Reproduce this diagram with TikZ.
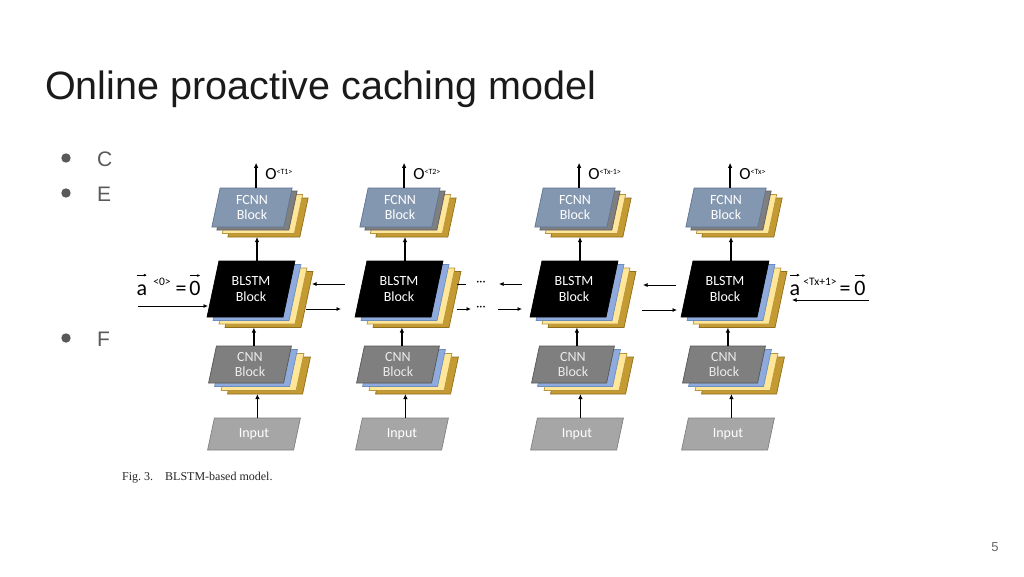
\documentclass[tikz,border=0pt]{standalone}
\usepackage{fontspec}
\setmainfont{Liberation Sans}
\newfontfamily\blockfont{Carlito}
\newfontfamily\capfont{Liberation Serif}
\usetikzlibrary{arrows.meta,calc}
\definecolor{fcnnfill}{HTML}{8497B0}
\definecolor{fcnndraw}{HTML}{5F7394}
\definecolor{dgray}{HTML}{7F7F7F}
\definecolor{dgrayD}{HTML}{5F5F5F}
\definecolor{lblue}{HTML}{8FAADC}
\definecolor{lblueD}{HTML}{6C8EBF}
\definecolor{yel}{HTML}{FFE699}
\definecolor{yelD}{HTML}{B8953A}
\definecolor{gold}{HTML}{C49A32}
\definecolor{goldD}{HTML}{8F6F1C}
\definecolor{cnnfill}{HTML}{7F7F7F}
\definecolor{cnndraw}{HTML}{555555}
\definecolor{inpfill}{HTML}{A6A6A6}
\definecolor{inpdraw}{HTML}{808080}
\definecolor{bulc}{HTML}{595959}
\definecolor{titlec}{HTML}{1A1A1A}
% parallelogram: center x, center y, side width, height, style
\newcommand\pgm[5]{\path[#5]
  ({#1-(#3)/2+0.1063*(#4)},{#2-(#4)/2}) --
  ({#1+(#3)/2+0.1063*(#4)},{#2-(#4)/2}) --
  ({#1+(#3)/2-0.1063*(#4)},{#2+(#4)/2}) --
  ({#1-(#3)/2-0.1063*(#4)},{#2+(#4)/2}) -- cycle;}
\tikzset{
  lay/.style={line width=0.7pt, line join=miter},
  goldL/.style={lay, fill=gold, draw=goldD},
  yelL/.style={lay, fill=yel, draw=yelD},
  blueL/.style={lay, fill=lblue, draw=lblueD},
  grayL/.style={lay, fill=dgray, draw=dgrayD},
  btext/.style={inner sep=0pt, align=center, font=\blockfont\fontsize{14}{15.5}\selectfont},
  varr/.style={line width=1.4pt, -{Latex[length=5pt,width=4.5pt]}},
  harr/.style={line width=0.8pt, -{Latex[length=4.5pt,width=4pt]}},
  vecarr/.style={line width=0.7pt, -{Latex[length=3pt,width=3pt]}},
  hline/.style={line width=0.8pt},
  olab/.style={anchor=base west, inner sep=0pt, font=\blockfont\fontsize{17}{18}\selectfont},
  alab/.style={anchor=base, inner sep=0pt, font=\blockfont\fontsize{22}{24}\selectfont},
  asup/.style={anchor=base, inner sep=0pt, font=\blockfont\fontsize{11.5}{12}\selectfont},
  dots/.style={font=\blockfont\fontsize{12}{12}\selectfont, inner sep=0pt},
  bul/.style={circle, fill=bulc, minimum size=9.4pt, inner sep=0pt},
  bultext/.style={anchor=base west, inner sep=0pt, text=bulc, font=\fontsize{21}{22}\selectfont},
}
\begin{document}
\begin{tikzpicture}[x=1pt,y=-1pt]
\useasboundingbox[fill=white] (0,0) rectangle (1024,576);

% title
\node[anchor=base west, text=titlec, font=\fontsize{39.5}{40}\selectfont, inner sep=0pt] (title) at (45,99) {Online proactive caching model};

% bullets (partly hidden by the figure)
\node[bul] (bu1) at (66,158) {};
\node[bultext] (bt1) at (97,166) {C};
\node[bul] (bu2) at (66,193) {};
\node[bultext] (bt2) at (97,201) {E};
\node[bul] (bu3) at (66,338) {};
\node[bultext] (bt3) at (97,346) {F};

% columns
\foreach \i/\ox/\t in {1/0/T1,2/148/T2,3/323/Tx-1,4/474/Tx} {
  % FCNN stack
  \pgm{252+\ox+16}{207.5+10}{72}{39}{goldL}
  \pgm{252+\ox+10.5}{207.5+6.5}{72}{39}{yelL}
  \pgm{252+\ox+5}{207.5+3}{72}{39}{grayL}
  \pgm{252+\ox}{207.5}{72}{39}{lay, fill=fcnnfill, draw=fcnndraw}
  \node[btext, text=white, minimum width=72pt, minimum height=39pt] (f\i) at (252+\ox,207.5) {FCNN\\Block};
  \coordinate (fg\i) at (252+\ox+16,207.5+10+19.5);
  % BLSTM stack
  \pgm{251+\ox+18}{289+10.5}{76}{56}{goldL}
  \pgm{251+\ox+12}{289+7}{76}{56}{yelL}
  \pgm{251+\ox+6}{289+3.5}{76}{56}{blueL}
  \pgm{251+\ox}{289}{76}{56}{lay, fill=black, draw=black}
  \node[btext, text=white, minimum width=76pt, minimum height=56pt] (b\i) at (251+\ox,289) {BLSTM\\Block};
  \coordinate (bg\i) at (251+\ox+18,289+10.5+28);
  % CNN stack
  \pgm{250+\ox+19}{364.5+11}{75}{37}{goldL}
  \pgm{250+\ox+12.5}{364.5+7.5}{75}{37}{yelL}
  \pgm{250+\ox+6}{364.5+3.5}{75}{37}{blueL}
  \pgm{250+\ox}{364.5}{75}{37}{lay, fill=cnnfill, draw=cnndraw}
  \node[btext, text=white!92!black, minimum width=75pt, minimum height=37pt] (c\i) at (250+\ox,364.5) {CNN\\Block};
  \coordinate (cg\i) at (250+\ox+19,364.5+11+18.5);
  % input
  \pgm{254+\ox}{434}{86}{32}{lay, fill=inpfill, draw=inpdraw}
  \node[btext, text=white, minimum width=86pt, minimum height=32pt] (in\i) at (254+\ox,434) {Input};
  % vertical arrows (from the middle of each top edge)
  \draw[varr] ($(in\i.north)+(3.4,0)$) -- ($(in\i.north |- cg\i)+(3.4,0)$);
  \draw[varr] ($(c\i.north)+(3.9,0)$) -- ($(c\i.north |- bg\i)+(3.9,0)$);
  \draw[varr] ($(b\i.north)+(6,0)$) -- ($(b\i.north |- fg\i)+(6,0)$);
  \coordinate (o\i) at ($(f\i.north)+(4.1,-25)$);
  \draw[varr] ($(f\i.north)+(4.1,0)$) -- (o\i);
  \node[olab] (ol\i) at ($(o\i)+(9,17)$) {O\raisebox{5pt}{\fontsize{8}{8}\selectfont<\t>}};
}

% left boundary input
\coordinate (ainS) at (138,306);
\coordinate (ainE) at (208,306);
\draw[harr] (ainS) -- (ainE);
\node[alab] (aL) at (142,295) {a};
\node[asup] (aLs) at (162,285) {<0>};
\node[alab] (eqL) at (181,295) {=};
\node[alab] (zL) at (195,295) {0};
\draw[vecarr] ($(aL.north west)+(0.5,-9)$) -- ($(aL.north east)+(-0.5,-9)$);
\draw[vecarr] ($(zL.north west)+(0.5,-5)$) -- ($(zL.north east)+(-0.5,-5)$);

% between column 1 and 2
\coordinate (h1a) at (345,284); \coordinate (h1b) at (312,284);
\coordinate (h1c) at (306,309); \coordinate (h1d) at (341,309);
\draw[harr] (h1a) -- (h1b);
\draw[harr] (h1c) -- (h1d);

% column 2 to the gap
\coordinate (h2a) at (457,284); \coordinate (h2b) at (466,284);
\coordinate (h2c) at (457,309); \coordinate (h2d) at (471,309);
\draw[hline] (h2a) -- (h2b);
\draw[harr] (h2c) -- (h2d);
\node[dots] (d1) at (481,283) {···};
\node[dots] (d2) at (481,308) {···};
\coordinate (h3a) at (522,284); \coordinate (h3b) at (499,284);
\coordinate (h3c) at (498,309); \coordinate (h3d) at (522,309);
\draw[harr] (h3a) -- (h3b);
\draw[harr] (h3c) -- (h3d);

% between column 3 and 4
\coordinate (h4a) at (676,285); \coordinate (h4b) at (643,285);
\coordinate (h4c) at (642,310); \coordinate (h4d) at (677,310);
\draw[harr] (h4a) -- (h4b);
\draw[harr] (h4c) -- (h4d);

% right boundary input
\coordinate (arS) at (869,300);
\coordinate (arE) at (792,300);
\draw[harr] (arS) -- (arE);
\node[alab] (aR) at (795,295) {a};
\node[asup] (aRs) at (820,285) {<Tx+1>};
\node[alab] (eqR) at (845,295) {=};
\node[alab] (zR) at (860,295) {0};
\draw[vecarr] ($(aR.north west)+(0.5,-9)$) -- ($(aR.north east)+(-0.5,-9)$);
\draw[vecarr] ($(zR.north west)+(0.5,-5)$) -- ($(zR.north east)+(-0.5,-5)$);

% caption
\node[anchor=base west, inner sep=0pt, text=black!85, font=\capfont\fontsize{12}{13}\selectfont] (cap) at (122,480) {Fig.~3.\hspace{1em}BLSTM-based model.};

% page number
\node[anchor=base, inner sep=0pt, text=black!60, font=\fontsize{13}{14}\selectfont] (pg) at (995,551) {5};
\end{tikzpicture}
\end{document}
